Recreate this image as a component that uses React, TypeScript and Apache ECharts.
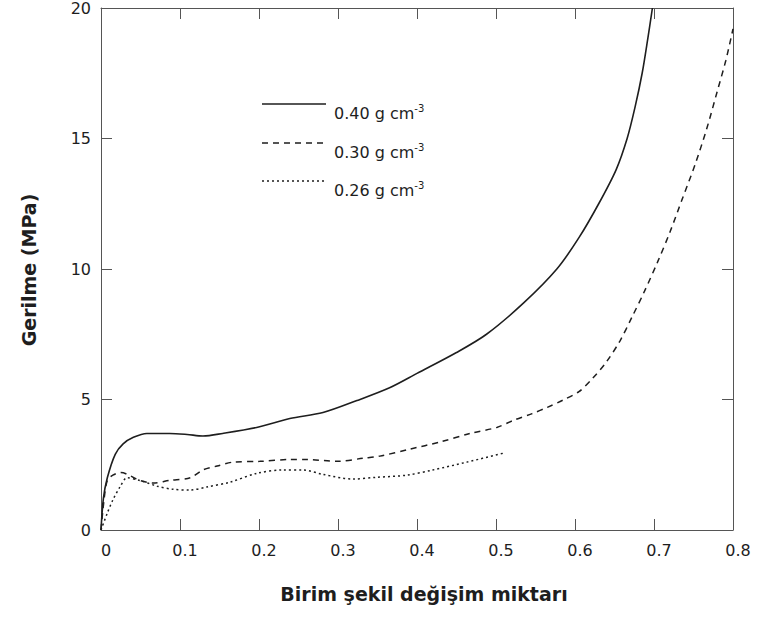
import React, { useEffect, useRef } from "react";
import * as echarts from "echarts";

const strain040 = [0, 0.003, 0.008, 0.018, 0.028, 0.041, 0.058, 0.087, 0.109, 0.129, 0.154, 0.197, 0.239, 0.281, 0.324, 0.366, 0.4, 0.45, 0.488, 0.535, 0.577, 0.605, 0.63, 0.652, 0.666, 0.676, 0.685, 0.692, 0.698];
const stress040 = [0, 1.2, 2.0, 2.9, 3.3, 3.55, 3.7, 3.7, 3.66, 3.6, 3.7, 3.93, 4.27, 4.5, 4.96, 5.46, 6.0, 6.8, 7.5, 8.7, 10.0, 11.2, 12.5, 13.8, 15.0, 16.2, 17.5, 18.8, 20.0];

const strain030 = [0, 0.004, 0.008, 0.015, 0.025, 0.049, 0.066, 0.087, 0.113, 0.129, 0.147, 0.167, 0.201, 0.239, 0.261, 0.299, 0.332, 0.353, 0.391, 0.429, 0.467, 0.501, 0.522, 0.545, 0.565, 0.585, 0.605, 0.622, 0.64, 0.657, 0.672, 0.688, 0.705, 0.72, 0.736, 0.752, 0.767, 0.78, 0.791, 0.8];
const stress030 = [0, 1.2, 1.9, 2.1, 2.2, 1.9, 1.8, 1.9, 2.0, 2.3, 2.45, 2.6, 2.63, 2.7, 2.7, 2.63, 2.75, 2.83, 3.1, 3.37, 3.7, 3.93, 4.2, 4.45, 4.7, 4.98, 5.3, 5.8, 6.45, 7.25, 8.15, 9.15, 10.3, 11.4, 12.7, 14.0, 15.4, 16.8, 18.0, 19.2];

const strain026 = [0, 0.008, 0.015, 0.024, 0.033, 0.049, 0.071, 0.091, 0.113, 0.134, 0.163, 0.197, 0.23, 0.256, 0.281, 0.319, 0.349, 0.387, 0.42, 0.463, 0.509];
const stress026 = [0, 0.65, 1.15, 1.65, 2.0, 1.9, 1.68, 1.56, 1.53, 1.65, 1.83, 2.17, 2.3, 2.3, 2.13, 1.95, 2.02, 2.1, 2.3, 2.6, 2.94];

const legendLabels = ["0.40 g cm", "0.30 g cm", "0.26 g cm"];
const legendSup = "-3";
const xTitle = "Birim şekil değişim miktarı";
const yTitle = "Gerilme (MPa)";

const zip = (xs: number[], ys: number[]) => xs.map((x, i) => [x, ys[i]]);

const INK = "#1e1e1e";
const FONT = "DejaVu Sans";

export default function App() {
  const ref = useRef<HTMLDivElement>(null);
  useEffect(() => {
    if (!ref.current) return;
    const chart = echarts.init(ref.current, null, { renderer: "svg" });
    const axisLine = () => ({ show: true, onZero: false, lineStyle: { color: "#555", width: 1 } });
    const axisTick = () => ({ show: true, inside: true, length: 11, lineStyle: { color: "#555", width: 1 } });
    const lineTypes: any[] = ["solid", [6, 5], [2, 3]];
    const legendY = [104, 143, 181];
    const graphics: any[] = [];
    legendLabels.forEach((lab, i) => {
      graphics.push({
        type: "line",
        shape: { x1: 262, y1: legendY[i], x2: 326, y2: legendY[i] },
        style: { stroke: INK, lineWidth: 1.4, lineDash: i === 0 ? null : lineTypes[i] },
      });
      graphics.push({
        type: "text",
        x: 334,
        y: legendY[i] + 8,
        style: {
          text: "{n|" + lab + "}{s|" + legendSup + "}",
          rich: {
            n: { fontSize: 16, fontFamily: FONT, fill: INK, verticalAlign: "bottom", lineHeight: 18 },
            s: { fontSize: 10, fontFamily: FONT, fill: INK, verticalAlign: "top", lineHeight: 18 },
          },
          textVerticalAlign: "middle",
          textAlign: "left",
        },
      });
    });
    graphics.push({
      type: "text",
      x: 424,
      y: 594,
      style: { text: xTitle, fontSize: 19, fontWeight: "bold", fontFamily: FONT, fill: INK, textAlign: "center", textVerticalAlign: "middle" },
    });
    graphics.push({
      type: "text",
      x: 29,
      y: 270,
      rotation: Math.PI / 2,
      style: { text: yTitle, fontSize: 19, fontWeight: "bold", fontFamily: FONT, fill: INK, textAlign: "center", textVerticalAlign: "middle" },
    });

    chart.setOption({
      animation: false,
      backgroundColor: "#ffffff",
      grid: { left: 101, top: 6, width: 632, height: 524 },
      xAxis: [
        {
          type: "value", position: "bottom", min: 0, max: 0.8, interval: 0.1,
          axisLine: axisLine(), axisTick: axisTick(), splitLine: { show: false },
          axisLabel: { margin: 12, fontSize: 16, fontFamily: FONT, color: INK, padding: [0, 0, 0, 10] },
        },
        {
          type: "value", position: "top", min: 0, max: 0.8, interval: 0.1,
          axisLine: axisLine(), axisTick: axisTick(), splitLine: { show: false }, axisLabel: { show: false },
        },
      ],
      yAxis: [
        {
          type: "value", position: "left", min: 0, max: 20, interval: 5,
          axisLine: axisLine(), axisTick: axisTick(), splitLine: { show: false },
          axisLabel: { margin: 10, fontSize: 16, fontFamily: FONT, color: INK, padding: [6, 0, 0, 0] },
        },
        {
          type: "value", position: "right", min: 0, max: 20, interval: 5,
          axisLine: axisLine(), axisTick: axisTick(), splitLine: { show: false }, axisLabel: { show: false },
        },
      ],
      series: [
        { name: "0.40 g cm-3", data: zip(strain040, stress040), lineStyle: { type: lineTypes[0], width: 1.6 } },
        { name: "0.30 g cm-3", data: zip(strain030, stress030), lineStyle: { type: lineTypes[1], width: 1.5 } },
        { name: "0.26 g cm-3", data: zip(strain026, stress026), lineStyle: { type: lineTypes[2], width: 1.5 } },
      ].map((s) => ({
        ...s,
        type: "line",
        smooth: 0.3,
        showSymbol: false,
        symbol: "none",
        clip: true,
        itemStyle: { color: INK },
        lineStyle: { ...s.lineStyle, color: INK },
      })),
      graphic: graphics,
    });
    return () => chart.dispose();
  }, []);
  return <div ref={ref} style={{ position: "absolute", left: 0, top: 0, width: 760, height: 621 }} />;
}
